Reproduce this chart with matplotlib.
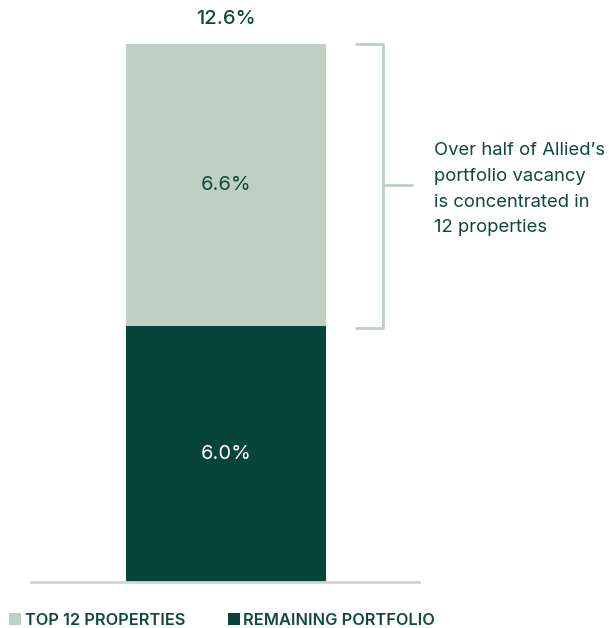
import matplotlib.pyplot as plt

plt.rcParams['font.family'] = ['Inter', 'DejaVu Sans']

# Vacancy split, percent of portfolio
segments = ['TOP 12 PROPERTIES', 'REMAINING PORTFOLIO']
remaining = 6.0
top12 = 6.6
total = 12.6

light = '#bfcfc3'
dark = '#07453a'
ink = '#0d4a3d'

fig = plt.figure(figsize=(6.09, 6.28), dpi=100)
ax = fig.add_axes([31 / 609, 46 / 628, 388 / 609, 538 / 628])

b_rem = ax.bar(0, remaining, width=1.0, color=dark, label=segments[1])
b_top = ax.bar(0, top12, width=1.0, bottom=remaining, color=light, label=segments[0])

ax.set_xlim(-0.975, 0.965)
ax.set_ylim(0, total)

for s in ['top', 'right', 'left']:
    ax.spines[s].set_visible(False)
ax.spines['bottom'].set_color('#d9d3ce')
ax.spines['bottom'].set_linewidth(2)
ax.set_xticks([])
ax.set_yticks([])

# segment labels
ax.text(0, remaining / 2, f'{remaining:.1f}%', ha='center', va='center',
        color='white', fontsize=14.5)
ax.text(0, remaining + top12 / 2, f'{top12:.1f}%', ha='center', va='center',
        color=ink, fontsize=14.5)
ax.annotate(f'{total:.1f}%', (0, total), xytext=(0, 18), textcoords='offset points',
            ha='center', va='center', color=ink, fontsize=14.5, weight='medium',
            annotation_clip=False)

# bracket around the top segment
bx, bl, br = 0.785, 0.645, 0.935
y0, y1 = remaining - 0.05, total
mid = remaining + top12 / 2
bk = dict(color=light, lw=2, clip_on=False, solid_capstyle='butt')
ax.plot([bl, bx, bx, bl], [y1, y1, y0, y0], **bk)
ax.plot([bx, br], [mid, mid], **bk)
ax.text(1.04, mid - 0.1, "Over half of Allied’s\nportfolio vacancy\nis concentrated in\n12 properties",
        ha='left', va='center', color=ink, fontsize=13.3, linespacing=1.68, clip_on=False)

fig.legend(handles=[b_top, b_rem], loc='lower left', bbox_to_anchor=(-0.004, -0.018),
           ncol=2, frameon=False, handlelength=0.75, handleheight=0.75,
           handletextpad=0.2, columnspacing=2.6, borderaxespad=0.3,
           prop={'size': 11.8, 'weight': 'semibold'}, labelcolor=ink)

fig.savefig('out.png', dpi=100, facecolor='white')
